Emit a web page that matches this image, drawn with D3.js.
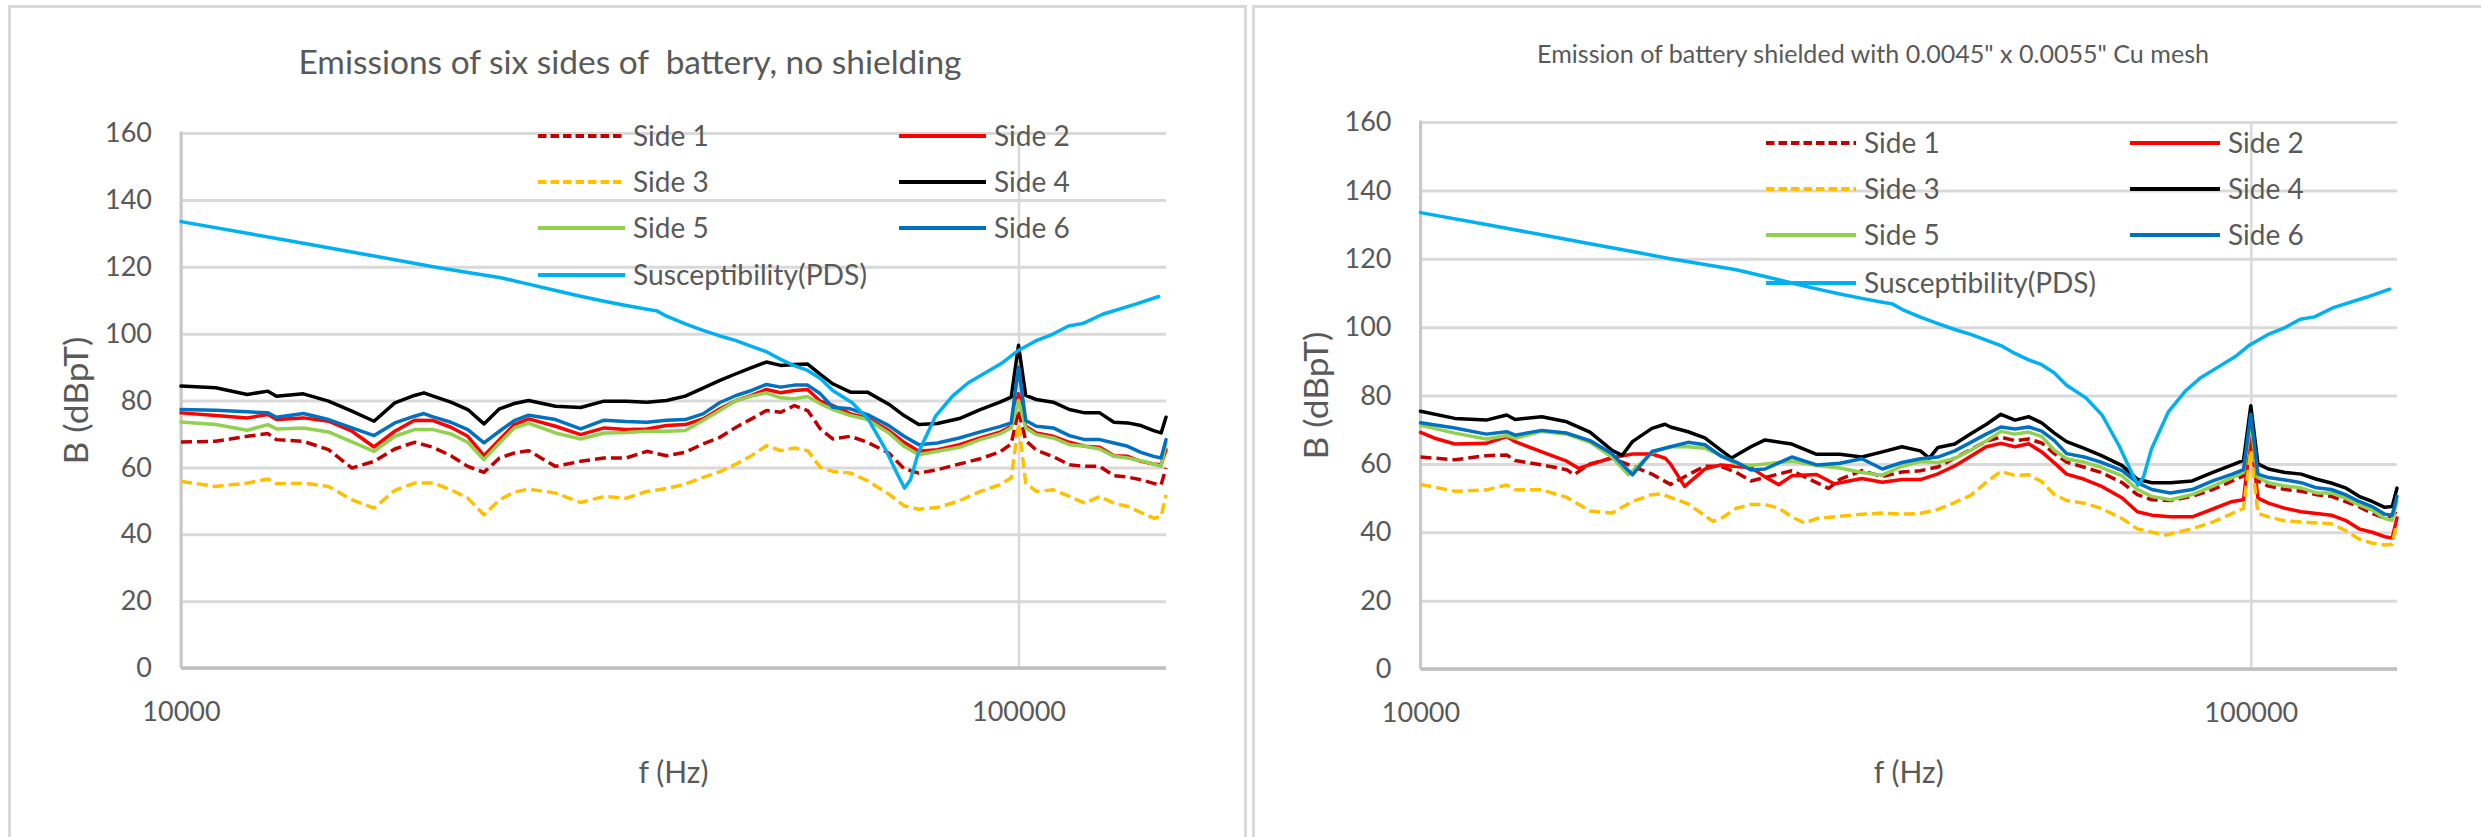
<!DOCTYPE html>
<meta charset="utf-8">
<style>
    html,
    body {
        margin: 0;
        padding: 0;
        background: #fff;
    }

    svg {
        display: block;
    }

    text {
        font-family: Lato, "Open Sans", sans-serif;
        fill: #595959;
    }
</style>

<body>
    <svg id="chart" width="2481" height="837"></svg>
    <script src="https://cdn.jsdelivr.net/npm/d3@7/dist/d3.min.js"></script>
    <script>
        // ---- data: [frequency Hz, B dBpT] ----
        const yTicks = [0, 20, 40, 60, 80, 100, 120, 140, 160];
        const xTicks = [10000, 100000];
        const legendNames = ["Side 1", "Side 2", "Side 3", "Side 4", "Side 5", "Side 6", "Susceptibility(PDS)"];
        const leftTitle = "Emissions of six sides of\u00a0 battery, no shielding";
        const rightTitle = "Emission of battery shielded with 0.0045\" x 0.0055\" Cu mesh";

        const susceptibility = [[10000, 133.5], [12000, 130.0], [14000, 127.0], [16000, 124.4], [18000, 122.1], [20000, 120.0], [22000, 118.3], [24000, 116.8], [26000, 114.8], [28000, 112.9], [30000, 111.2], [32000, 109.7], [34000, 108.4], [36000, 107.3], [37000, 106.8], [38000, 105.2], [40000, 102.9], [42000, 101.0], [44000, 99.3], [46000, 97.9], [48000, 96.2], [50000, 94.6], [52000, 92.3], [54000, 90.4], [56000, 89.0], [58000, 86.6], [60000, 83.0], [63300, 79.3], [66200, 74.3], [69400, 65.3], [71900, 57.3], [73100, 53.8], [74300, 56.3], [75900, 64.3], [79600, 75.3], [83400, 81.3], [87100, 85.3], [91300, 88.3], [95700, 91.3], [99700, 94.8], [104800, 97.8], [109800, 99.8], [114700, 102.3], [119300, 103.0], [126000, 105.8], [138000, 108.8], [147000, 111.1]];

        // no shielding
        const leftSide1 = [[10000, 67.6], [11000, 67.8], [12000, 69.3], [12700, 70.1], [13000, 68.3], [14000, 67.8], [15000, 65.3], [16000, 59.8], [17000, 61.8], [18000, 65.5], [19000, 67.5], [20000, 66.0], [21000, 63.5], [22000, 60.3], [23000, 58.5], [24000, 62.8], [25000, 64.3], [26000, 65.0], [28000, 60.3], [30000, 61.8], [32000, 62.8], [34000, 62.8], [36000, 64.8], [38000, 63.5], [40000, 64.5], [42000, 67.0], [44000, 69.0], [46000, 72.0], [48000, 74.5], [50000, 77.0], [52000, 76.5], [54000, 78.5], [56000, 77.0], [58000, 71.5], [60000, 68.5], [63000, 69.3], [66000, 67.5], [70000, 64.3], [73000, 59.6], [76000, 58.3], [80000, 59.3], [85000, 61.0], [90000, 62.6], [95000, 64.6], [98000, 67.0], [100000, 77.0], [102000, 68.0], [105000, 65.2], [110000, 63.2], [115000, 60.8], [120000, 60.3], [125000, 60.3], [130000, 57.5], [135000, 57.1], [140000, 56.3], [145000, 55.2], [148000, 54.8], [150000, 59.8]];
        const leftSide2 = [[10000, 76.3], [11000, 75.5], [12000, 74.8], [12700, 75.8], [13000, 74.3], [14000, 74.8], [15000, 73.8], [16000, 70.8], [17000, 66.1], [18000, 70.8], [19000, 74.1], [20000, 74.0], [21000, 72.0], [22000, 69.3], [23000, 63.5], [24000, 68.3], [25000, 72.8], [26000, 74.5], [28000, 72.3], [30000, 69.8], [32000, 71.8], [34000, 71.3], [36000, 71.5], [38000, 72.5], [40000, 72.8], [42000, 74.5], [44000, 77.5], [46000, 80.0], [48000, 81.5], [50000, 83.3], [52000, 82.3], [54000, 83.0], [56000, 83.3], [58000, 79.8], [60000, 78.5], [63000, 76.0], [66000, 74.8], [70000, 71.0], [73000, 67.5], [76000, 64.8], [80000, 65.3], [85000, 66.8], [90000, 68.8], [95000, 70.5], [98000, 72.3], [100000, 82.0], [102000, 72.3], [105000, 70.3], [110000, 69.3], [115000, 67.5], [120000, 66.3], [125000, 66.0], [130000, 63.5], [135000, 63.3], [140000, 61.8], [145000, 61.0], [148000, 60.8], [150000, 65.3]];
        const leftSide3 = [[10000, 55.8], [11000, 54.3], [12000, 55.3], [12700, 56.5], [13000, 55.1], [14000, 55.3], [15000, 54.3], [16000, 50.3], [17000, 47.8], [18000, 53.1], [19000, 55.3], [20000, 55.3], [21000, 53.3], [22000, 50.8], [23000, 45.8], [24000, 50.3], [25000, 52.6], [26000, 53.5], [28000, 52.3], [30000, 49.5], [32000, 51.3], [34000, 50.8], [36000, 52.8], [38000, 53.7], [40000, 55.0], [42000, 57.0], [44000, 58.7], [46000, 61.0], [48000, 63.5], [50000, 66.5], [52000, 65.0], [54000, 65.8], [56000, 65.0], [58000, 60.0], [60000, 58.8], [63000, 58.3], [66000, 56.0], [70000, 52.0], [73000, 48.5], [76000, 47.5], [80000, 48.0], [85000, 50.0], [90000, 52.8], [95000, 54.8], [98000, 56.8], [100000, 73.0], [102000, 55.3], [105000, 52.8], [110000, 53.3], [115000, 51.3], [120000, 49.3], [125000, 51.3], [130000, 49.3], [135000, 48.3], [140000, 46.5], [145000, 44.8], [148000, 45.3], [150000, 51.8]];
        const leftSide4 = [[10000, 84.3], [11000, 83.8], [12000, 81.8], [12700, 82.8], [13000, 81.3], [14000, 82.0], [15000, 79.8], [16000, 76.8], [17000, 73.8], [18000, 79.3], [19000, 81.5], [19500, 82.3], [20000, 81.3], [21000, 79.5], [22000, 77.3], [23000, 73.0], [24000, 77.5], [25000, 79.1], [26000, 80.0], [28000, 78.3], [30000, 77.9], [32000, 79.8], [34000, 79.8], [36000, 79.5], [38000, 80.0], [40000, 81.3], [42000, 83.7], [44000, 86.0], [46000, 88.0], [48000, 89.8], [50000, 91.5], [52000, 90.5], [54000, 90.8], [56000, 90.9], [58000, 87.8], [60000, 85.0], [63000, 82.5], [66000, 82.5], [70000, 78.9], [73000, 75.5], [76000, 72.8], [80000, 73.1], [85000, 74.6], [90000, 77.3], [95000, 79.5], [98000, 81.0], [100000, 96.5], [102000, 81.5], [105000, 80.3], [110000, 79.5], [115000, 77.3], [120000, 76.3], [125000, 76.3], [130000, 73.5], [135000, 73.3], [140000, 72.5], [145000, 71.0], [148000, 70.3], [150000, 75.0]];
        const leftSide5 = [[10000, 73.6], [11000, 72.8], [12000, 71.1], [12700, 72.8], [13000, 71.5], [14000, 71.8], [15000, 70.6], [16000, 67.6], [17000, 64.8], [18000, 69.3], [19000, 71.3], [20000, 71.3], [21000, 70.0], [22000, 67.5], [23000, 62.3], [24000, 67.3], [25000, 71.8], [26000, 73.2], [28000, 70.3], [30000, 68.5], [32000, 70.3], [34000, 70.4], [36000, 70.8], [38000, 70.8], [40000, 71.0], [42000, 74.0], [44000, 77.0], [46000, 80.0], [48000, 81.3], [50000, 82.3], [52000, 80.8], [54000, 80.5], [56000, 81.2], [58000, 79.0], [60000, 77.3], [63000, 75.5], [66000, 74.3], [70000, 70.3], [73000, 66.3], [76000, 63.8], [80000, 64.8], [85000, 66.0], [90000, 68.3], [95000, 70.0], [98000, 71.8], [100000, 80.0], [102000, 71.8], [105000, 69.8], [110000, 68.8], [115000, 66.8], [120000, 66.3], [125000, 65.5], [130000, 63.3], [135000, 62.8], [140000, 62.0], [145000, 61.0], [148000, 60.3], [150000, 67.3]];
        const leftSide6 = [[10000, 77.3], [11000, 77.1], [12000, 76.6], [12700, 76.3], [13000, 75.0], [14000, 76.1], [15000, 74.3], [16000, 71.8], [17000, 69.5], [18000, 73.3], [19000, 75.3], [19500, 76.1], [20000, 75.1], [21000, 73.5], [22000, 71.3], [23000, 67.3], [24000, 70.8], [25000, 74.0], [26000, 75.6], [28000, 74.3], [30000, 71.5], [32000, 74.1], [34000, 73.7], [36000, 73.5], [38000, 74.1], [40000, 74.3], [42000, 76.0], [44000, 79.4], [46000, 81.5], [48000, 83.0], [50000, 84.8], [52000, 84.0], [54000, 84.6], [56000, 84.6], [58000, 82.0], [60000, 78.0], [63000, 77.5], [66000, 75.8], [70000, 72.5], [73000, 69.3], [76000, 66.8], [80000, 67.3], [85000, 68.8], [90000, 70.6], [95000, 72.2], [98000, 73.3], [100000, 90.0], [102000, 74.0], [105000, 72.3], [110000, 71.8], [115000, 69.5], [120000, 68.3], [125000, 68.3], [130000, 67.3], [135000, 66.3], [140000, 64.5], [145000, 63.3], [148000, 62.8], [150000, 68.3]];

        // shielded with Cu mesh
        const rightSide1 = [[10000, 62.0], [11000, 61.2], [12000, 62.4], [12700, 62.6], [13000, 61.0], [14000, 59.7], [15000, 58.3], [15300, 56.8], [16000, 60.0], [17000, 61.7], [18000, 59.3], [19000, 57.0], [20000, 54.0], [21000, 56.8], [22000, 59.3], [23000, 59.3], [24000, 57.5], [25000, 55.0], [26000, 56.0], [28000, 58.0], [30000, 54.5], [31000, 52.8], [32000, 55.5], [34000, 58.0], [36000, 56.3], [38000, 57.6], [40000, 58.0], [42000, 59.1], [44000, 61.7], [46000, 64.2], [48000, 66.6], [50000, 67.8], [52000, 66.8], [54000, 67.3], [56000, 66.1], [58000, 63.0], [60000, 60.5], [63000, 59.0], [66000, 57.5], [70000, 54.5], [73000, 51.0], [76000, 49.5], [80000, 49.3], [85000, 50.5], [90000, 52.5], [95000, 55.0], [98000, 56.5], [100000, 70.0], [102000, 55.0], [105000, 53.5], [110000, 52.5], [115000, 52.0], [120000, 51.0], [125000, 50.5], [130000, 49.0], [135000, 47.5], [140000, 45.5], [145000, 44.2], [148000, 44.5], [150000, 46.5]];
        const rightSide2 = [[10000, 69.2], [10400, 67.5], [11000, 65.8], [12000, 66.0], [12700, 68.0], [13000, 66.5], [14000, 63.5], [15000, 60.8], [15500, 58.7], [16000, 59.8], [17000, 61.8], [18000, 62.9], [19000, 62.9], [19700, 61.7], [20000, 60.0], [20800, 53.4], [21600, 56.8], [22000, 58.5], [23000, 59.7], [24000, 59.2], [25000, 58.9], [26000, 56.2], [27000, 53.9], [28000, 56.5], [30000, 56.9], [31500, 54.2], [32000, 54.5], [34000, 55.7], [36000, 54.6], [38000, 55.4], [40000, 55.4], [42000, 57.1], [44000, 59.4], [46000, 62.2], [48000, 65.0], [50000, 66.0], [52000, 65.0], [54000, 65.9], [56000, 63.5], [58000, 60.3], [60000, 57.0], [63000, 55.5], [66000, 53.5], [70000, 50.0], [73000, 46.0], [76000, 45.0], [80000, 44.5], [85000, 44.5], [90000, 46.8], [95000, 49.0], [98000, 49.5], [100000, 68.0], [102000, 50.0], [105000, 48.5], [110000, 47.0], [115000, 46.0], [120000, 45.5], [125000, 45.0], [130000, 43.5], [135000, 41.0], [140000, 40.0], [145000, 38.7], [148000, 38.3], [150000, 44.2]];
        const rightSide3 = [[10000, 54.0], [11000, 52.0], [12000, 52.4], [12700, 53.8], [13000, 52.4], [14000, 52.4], [15000, 50.2], [16000, 46.2], [17000, 45.6], [18000, 49.0], [19000, 51.0], [19500, 51.2], [20000, 50.2], [21000, 48.3], [22500, 43.2], [23000, 44.0], [24000, 47.0], [25000, 48.1], [26000, 48.1], [27000, 47.1], [28000, 44.5], [29000, 42.7], [30000, 44.0], [32000, 44.7], [34000, 45.3], [36000, 45.6], [38000, 45.3], [40000, 45.5], [42000, 46.7], [44000, 48.7], [46000, 50.8], [48000, 54.6], [50000, 57.8], [52000, 56.6], [54000, 56.8], [56000, 54.8], [58000, 51.0], [60000, 49.3], [63000, 48.5], [66000, 47.0], [70000, 44.0], [73000, 41.0], [76000, 40.0], [79000, 39.2], [85000, 41.0], [90000, 43.0], [95000, 45.5], [98000, 47.0], [100000, 64.0], [102000, 45.5], [105000, 44.5], [110000, 43.3], [115000, 43.0], [120000, 42.7], [125000, 42.5], [130000, 40.5], [135000, 38.0], [140000, 36.8], [145000, 36.3], [148000, 36.5], [150000, 42.7]];
        const rightSide4 = [[10000, 75.4], [11000, 73.3], [12000, 72.8], [12700, 74.3], [13000, 73.0], [14000, 73.8], [15000, 72.3], [16000, 69.3], [17000, 64.0], [17500, 62.5], [18000, 66.5], [19000, 70.4], [19700, 71.6], [20000, 70.8], [21000, 69.4], [22000, 67.6], [23000, 64.0], [23700, 61.7], [24000, 62.5], [25000, 65.0], [26000, 67.0], [28000, 65.8], [30000, 62.8], [32000, 62.8], [34000, 62.0], [36000, 63.5], [38000, 65.0], [40000, 63.8], [41000, 61.7], [42000, 64.8], [44000, 65.8], [46000, 68.8], [48000, 71.5], [50000, 74.5], [52000, 72.8], [54000, 73.8], [56000, 72.0], [58000, 69.0], [60000, 66.5], [63000, 64.5], [66000, 62.5], [70000, 59.5], [73000, 55.5], [76000, 54.5], [80000, 54.5], [85000, 55.0], [90000, 57.5], [95000, 59.7], [98000, 61.0], [100000, 77.0], [102000, 60.0], [105000, 58.5], [110000, 57.5], [115000, 57.0], [120000, 55.5], [125000, 54.4], [130000, 53.0], [135000, 50.5], [140000, 49.0], [145000, 47.3], [148000, 47.5], [150000, 52.9]];
        const rightSide5 = [[10000, 71.3], [11000, 69.0], [12000, 67.3], [12700, 68.3], [13000, 67.5], [14000, 69.5], [15000, 68.7], [16000, 66.3], [17000, 62.0], [17800, 56.8], [19000, 63.3], [20000, 65.0], [21000, 65.0], [22000, 64.6], [23000, 62.5], [24000, 60.0], [25000, 59.5], [26000, 60.0], [28000, 60.8], [30000, 59.5], [32000, 58.8], [34000, 57.5], [36000, 56.7], [38000, 59.3], [40000, 60.7], [42000, 60.4], [44000, 61.6], [46000, 64.0], [48000, 66.7], [50000, 69.5], [52000, 68.7], [54000, 69.3], [56000, 68.0], [58000, 64.0], [60000, 61.5], [63000, 60.5], [66000, 59.0], [70000, 56.5], [73000, 52.5], [76000, 50.5], [80000, 49.5], [85000, 51.0], [90000, 53.5], [95000, 56.0], [98000, 57.5], [100000, 72.0], [102000, 56.0], [105000, 54.5], [110000, 53.5], [115000, 53.0], [120000, 51.5], [125000, 51.5], [130000, 50.0], [135000, 48.0], [140000, 46.5], [145000, 44.0], [148000, 43.5], [150000, 49.0]];
        const rightSide6 = [[10000, 72.0], [11000, 70.5], [12000, 68.7], [12700, 69.4], [13000, 68.4], [14000, 69.8], [15000, 69.0], [16000, 66.8], [17000, 63.0], [18000, 56.8], [19000, 63.6], [20000, 65.0], [21000, 66.3], [22000, 65.6], [23000, 62.3], [24000, 60.5], [25000, 58.2], [26000, 58.5], [28000, 62.0], [30000, 59.7], [32000, 60.2], [34000, 61.5], [36000, 58.5], [38000, 60.4], [40000, 61.5], [42000, 62.0], [44000, 63.8], [46000, 66.3], [48000, 68.7], [50000, 70.8], [52000, 70.2], [54000, 70.8], [56000, 69.6], [58000, 66.8], [60000, 63.0], [63000, 62.0], [66000, 60.5], [70000, 58.0], [73000, 54.5], [76000, 52.5], [80000, 51.5], [85000, 52.5], [90000, 55.0], [95000, 57.0], [98000, 58.3], [100000, 74.5], [102000, 57.0], [105000, 56.0], [110000, 55.3], [115000, 54.5], [120000, 53.0], [125000, 52.5], [130000, 51.0], [135000, 49.0], [140000, 47.5], [145000, 45.3], [148000, 45.0], [150000, 50.5]];

        // ---- styles ----
        const colors = ["#c00000", "#ff0000", "#ffc000", "#000000", "#92d050", "#0070c0", "#00b0f0"];
        const dashed = [true, false, true, false, false, false, false];

        const panels = [
            {
                box: [9.5, 6.5, 1236], title: leftTitle, titleX: 630, titleY: 74, titleSize: 33, titleLen: 663,
                x0: 181, x1: 1166, yTop: 133, yBottom: 668, yTitleX: 76,
                legX: [538, 899], legY: [136, 182, 228, 275], swatch: 87, suscLen: 234,
                lines: [leftSide1, leftSide2, leftSide3, leftSide4, leftSide5, leftSide6, susceptibility]
            },
            {
                box: [1253.5, 6.5, 1300], title: rightTitle, titleX: 1873, titleY: 63, titleSize: 25, titleLen: 672,
                x0: 1420.5, x1: 2397, yTop: 122, yBottom: 669, yTitleX: 1316,
                legX: [1766, 2130], legY: [143, 189, 235, 283], swatch: 90, suscLen: 232,
                lines: [rightSide1, rightSide2, rightSide3, rightSide4, rightSide5, rightSide6, susceptibility]
            }
        ];

        const svg = d3.select("#chart");

        panels.forEach(p => {
            const g = svg.append("g");
            g.append("rect")
                .attr("x", p.box[0]).attr("y", p.box[1])
                .attr("width", p.box[2]).attr("height", 1000)
                .attr("fill", "#fff").attr("stroke", "#d9d9d9").attr("stroke-width", 3);

            const x = d3.scaleLog().domain([10000, 150000]).range([p.x0, p.x1]);
            const y = d3.scaleLinear().domain([0, 160]).range([p.yBottom, p.yTop]);

            // y axis with horizontal gridlines
            const yAxis = g.append("g")
                .attr("transform", `translate(${p.x0},0)`)
                .call(d3.axisLeft(y).tickValues(yTicks).tickSize(-(p.x1 - p.x0)).tickPadding(29));
            yAxis.attr("font-family", null).attr("font-size", null);
            yAxis.select(".domain").remove();
            yAxis.selectAll(".tick line").attr("stroke", "#d9d9d9").attr("stroke-width", 3);
            yAxis.selectAll(".tick text").attr("font-size", 27).attr("fill", "#595959");

            // x axis with the decade gridline
            const xAxis = g.append("g")
                .attr("transform", `translate(0,${p.yBottom})`)
                .call(d3.axisBottom(x).tickValues(xTicks).tickFormat(d3.format("d"))
                    .tickSize(-(p.yBottom - p.yTop)).tickPadding(34));
            xAxis.attr("font-family", null).attr("font-size", null);
            xAxis.select(".domain").remove();
            xAxis.selectAll(".tick line").attr("stroke", "#d9d9d9").attr("stroke-width", 2.5);
            xAxis.selectAll(".tick text").attr("font-size", 27).attr("fill", "#595959");

            // axis lines
            g.append("line").attr("x1", p.x0).attr("x2", p.x0).attr("y1", p.yTop - 1.5).attr("y2", p.yBottom)
                .attr("stroke", "#c8c8c8").attr("stroke-width", 3);
            g.append("line").attr("x1", p.x0).attr("x2", p.x1).attr("y1", p.yBottom).attr("y2", p.yBottom)
                .attr("stroke", "#bfbfbf").attr("stroke-width", 3.5);

            // series
            const line = d3.line().x(d => x(d[0])).y(d => y(d[1]));
            p.lines.forEach((data, i) => {
                g.append("path")
                    .datum(data)
                    .attr("d", line)
                    .attr("fill", "none")
                    .attr("stroke", colors[i])
                    .attr("stroke-width", 3.5)
                    .attr("stroke-linejoin", "round")
                    .attr("stroke-linecap", dashed[i] ? "butt" : "round")
                    .attr("stroke-dasharray", dashed[i] ? "11,5" : null);
            });

            // legend
            legendNames.forEach((name, i) => {
                const lx = p.legX[i % 2];
                const ly = p.legY[Math.floor(i / 2)];
                g.append("line")
                    .attr("x1", lx).attr("x2", lx + p.swatch).attr("y1", ly).attr("y2", ly)
                    .attr("stroke", colors[i]).attr("stroke-width", 4)
                    .attr("stroke-dasharray", dashed[i] ? "8.5,4" : null);
                const t = g.append("text")
                    .attr("x", lx + p.swatch + 8).attr("y", ly)
                    .attr("dy", "0.36em")
                    .attr("font-size", 28)
                    .text(name);
                if (i === 6) t.attr("textLength", p.suscLen).attr("lengthAdjust", "spacingAndGlyphs");
            });

            // titles
            g.append("text")
                .attr("x", p.titleX).attr("y", p.titleY)
                .attr("text-anchor", "middle")
                .attr("font-size", p.titleSize)
                .attr("textLength", p.titleLen).attr("lengthAdjust", "spacingAndGlyphs")
                .text(p.title);

            g.append("text")
                .attr("x", (p.x0 + p.x1) / 2).attr("y", 783)
                .attr("text-anchor", "middle")
                .attr("font-size", 30)
                .text("f (Hz)");

            g.append("text")
                .attr("transform", `translate(${p.yTitleX},${(p.yTop + p.yBottom) / 2}) rotate(-90)`)
                .attr("text-anchor", "middle")
                .attr("dy", "0.36em")
                .attr("font-size", 32)
                .attr("textLength", 128).attr("lengthAdjust", "spacingAndGlyphs")
                .text("B (dBpT)");
        });
    </script>
</body>

</html>
